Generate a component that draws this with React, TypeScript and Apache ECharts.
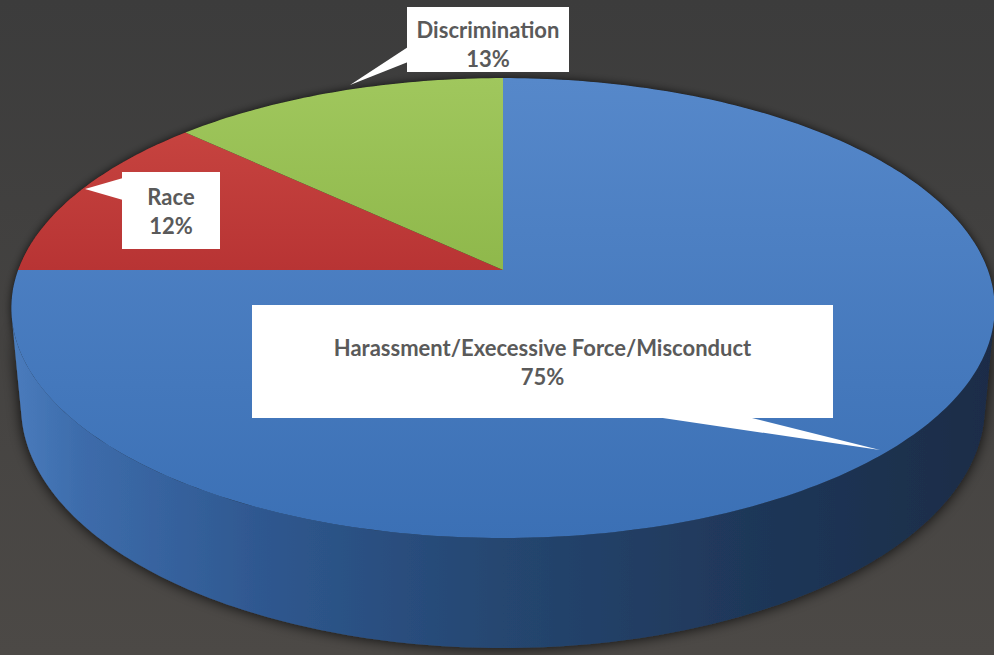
import React, { useEffect, useRef } from "react";
import * as echarts from "echarts";

// ---- data ----
const categories = ["Harassment/Execessive Force/Misconduct", "Race", "Discrimination"];
const values = [75, 12, 13];

// ---- styles / layout (not data) ----
const topColors = [
  ["#5688ca", "#3b70b5"],
  ["#c6433f", "#b83434"],
  ["#a0c75d", "#8fb84b"],
];
const labelBoxes = [
  { x: 252, y: 305, w: 581, h: 113, dy: 0, pointer: [[656, 417], [748, 417], [880, 450]] },
  { x: 122, y: 172, w: 98, h: 77, dy: 0, pointer: [[123, 178], [123, 200], [85, 189]] },
  { x: 407, y: 7, w: 162, h: 65, dy: 4, pointer: [[408, 47], [408, 62], [350, 85]] },
];

// perspective camera for the 3D disc (radius 1, thickness H)
const SX0 = 503, SY0 = 270, FOCAL = 2605;
const CAM_H = 2.478, CAM_D = 4.766, SIN_P = 0.4613, COS_P = 0.8873, THICK = 0.2307;
function proj3(X: number, Y: number, Z: number) {
  const vx = X, vy = Y - CAM_H, vz = Z + CAM_D;
  const yc = vy * COS_P + vz * SIN_P;
  const zc = -vy * SIN_P + vz * COS_P;
  return [SX0 + (FOCAL * vx) / zc, SY0 - (FOCAL * yc) / zc];
}
function topPt(t: number) {
  return proj3(Math.sin(t), 0, Math.cos(t));
}
function botPt(t: number) {
  return proj3(Math.sin(t), -THICK, Math.cos(t));
}
// side visible where cos(t) < -1 / CAM_D
const VIS = Math.acos(-1 / CAM_D);

export default function App() {
  const ref = useRef<HTMLDivElement>(null);
  useEffect(() => {
    document.body.style.margin = "0";
    const chart = echarts.init(ref.current!, undefined, { renderer: "svg" });
    const total = values.reduce((a, b) => a + b, 0);

    const arc = (f: (t: number) => number[], s: number, e: number) => {
      const n = Math.max(8, Math.ceil(Math.abs(e - s) / (Math.PI / 180)));
      const pts: number[][] = [];
      for (let j = 0; j <= n; j++) pts.push(f(s + ((e - s) * j) / n));
      return pts;
    };

    const renderItem = (params: any, api: any) => {
      const i = params.dataIndex;
      let cum = 0;
      for (let k = 0; k < i; k++) cum += values[k];
      const v = api.value(0);
      const a0 = (cum / total) * Math.PI * 2;
      const a1 = ((cum + v) / total) * Math.PI * 2;
      const children: any[] = [];
      if (i === 0) {
        const full = arc(topPt, 0, Math.PI * 2);
        children.push({
          type: "polygon",
          z2: -2,
          shape: { points: full },
          style: { fill: "#1a1a1a", shadowBlur: 8, shadowColor: "rgba(0,0,0,0.7)" },
        });
      }
      const s0 = Math.max(a0, VIS), s1 = Math.min(a1, Math.PI * 2 - VIS);
      if (s1 > s0) {
        const topA = arc(topPt, s0, s1);
        const botA = arc(botPt, s0, s1);
        children.push({
          type: "polygon",
          z2: 0,
          shape: { points: [...topA, ...botA.reverse()] },
          style: {
            fill: {
              type: "linear", x: 0, y: 0, x2: 1, y2: 0,
              colorStops: [
                { offset: 0, color: "#4a7cbd" },
                { offset: 0.07, color: "#3d6cab" },
                { offset: 0.25, color: "#2f5890" },
                { offset: 0.5, color: "#254670" },
                { offset: 0.75, color: "#1f3759" },
                { offset: 1, color: "#1a2c47" },
              ],
            },
            shadowBlur: 14,
            shadowColor: "rgba(0,0,0,0.85)",
          },
        });
      }
      children.push({
        type: "polygon",
        z2: 10,
        shape: { points: [[SX0, SY0], ...arc(topPt, a0, a1)] },
        style: {
          fill: {
            type: "linear", x: 0, y: 0, x2: 0, y2: 1,
            colorStops: [
              { offset: 0, color: topColors[i][0] },
              { offset: 1, color: topColors[i][1] },
            ],
          },
        },
      });
      const b = labelBoxes[i];
      children.push({
        type: "rect",
        z2: 20,
        shape: { x: b.x, y: b.y, width: b.w, height: b.h },
        style: { fill: "#ffffff" },
      });
      children.push({
        type: "polygon",
        z2: 20,
        shape: { points: b.pointer },
        style: { fill: "#ffffff" },
      });
      const pct = Math.round((v / total) * 100) + "%";
      children.push({
        type: "text",
        z2: 30,
        style: {
          text: categories[i] + "\n" + pct,
          x: b.x + b.w / 2,
          y: b.y + b.h / 2 + b.dy,
          align: "center",
          verticalAlign: "middle",
          fill: "#5a5a5a",
          fontFamily: "Lato, 'Open Sans', sans-serif",
          fontWeight: "bold",
          fontSize: 22,
          lineHeight: 29,
        },
      });
      return { type: "group", children };
    };

    chart.setOption({
      animation: false,
      backgroundColor: {
        type: "linear", x: 0, y: 0, x2: 0, y2: 1,
        colorStops: [
          { offset: 0, color: "#3c3c3c" },
          { offset: 1, color: "#4c4946" },
        ],
      },
      series: [
        {
          type: "custom",
          coordinateSystem: "none",
          renderItem,
          data: values.map((v, i) => ({ value: v, name: categories[i] })),
        },
      ],
    });
    return () => chart.dispose();
  }, []);
  return <div ref={ref} style={{ width: 994, height: 655 }} />;
}
